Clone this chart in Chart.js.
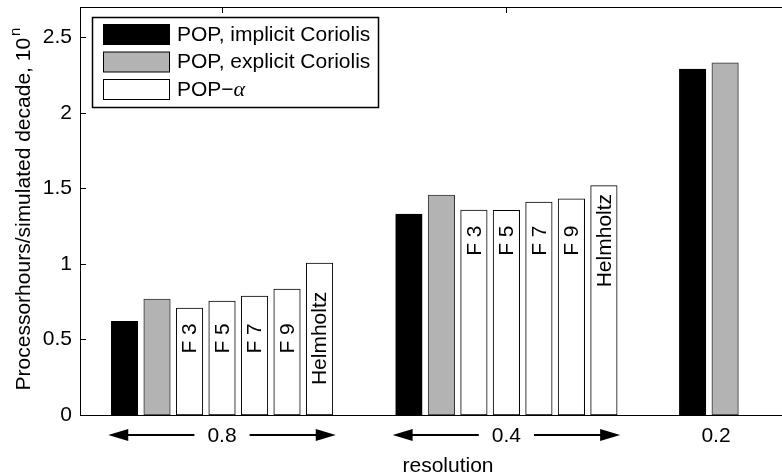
<!DOCTYPE html>
<html>
<head>
<meta charset="utf-8">
<script src="https://cdn.jsdelivr.net/npm/chart.js@4.4.1/dist/chart.umd.min.js"></script>
<style>
    html, body { margin: 0; padding: 0; background: #fff; overflow: hidden; }
    #wrap { width: 782px; height: 475px; }
</style>
</head>
<body>
<div id="wrap"><canvas id="chart"></canvas></div>
<script>
// Values: processor hours per simulated decade (10^n)
const resolutions = ['0.8', '0.4', '0.2'];
const implicitCoriolis = [0.62, 1.33, 2.29];
const explicitCoriolis = [0.767, 1.455, 2.33];
const popAlphaLabels = ['F 3', 'F 5', 'F 7', 'F 9', 'Helmholtz'];
const popAlpha08 = [0.707, 0.754, 0.787, 0.833, 1.005];
const popAlpha04 = [1.356, 1.354, 1.409, 1.43, 1.518];
const yTicks = [0, 0.5, 1, 1.5, 2, 2.5];
const seriesNames = ['POP, implicit Coriolis', 'POP, explicit Coriolis', 'POP\u2212'];

// layout: one slot = one bar plus its gap
const groupStart = [0, 8.75, 17.48];
const groupLabelAt = [3, 3, 0.72];
const BAR = 26.5;
const FONT = '"Liberation Sans", Arial, Helvetica, sans-serif';
const colors = ['#000000', '#b3b3b3', '#ffffff'];

const implicitPts = implicitCoriolis.map((v, g) => ({ x: groupStart[g], y: v }));
const explicitPts = explicitCoriolis.map((v, g) => ({ x: groupStart[g] + 1, y: v }));
const alphaPts = [];
[popAlpha08, popAlpha04].forEach((vals, g) => {
    vals.forEach((v, i) => alphaPts.push({ x: groupStart[g] + 2 + i, y: v }));
});
const alphaTextY = [Math.min(...popAlpha08) - 0.2, Math.min(...popAlpha04) - 0.2];

function arrow(ctx, tip, tail, y) {
    const dir = tail > tip ? 1 : -1;
    ctx.beginPath();
    ctx.moveTo(tip + dir * 18, y);
    ctx.lineTo(tail, y);
    ctx.stroke();
    ctx.beginPath();
    ctx.moveTo(tip, y);
    ctx.lineTo(tip + dir * 20, y - 6);
    ctx.lineTo(tip + dir * 20, y + 6);
    ctx.closePath();
    ctx.fill();
}

const decorations = {
    id: 'decorations',
    afterDatasetsDraw(chart) {
        const ctx = chart.ctx;
        const { left, top, bottom } = chart.chartArea;
        const xs = chart.scales.x, ys = chart.scales.y;
        const W = chart.width;
        ctx.save();
        ctx.strokeStyle = '#000';
        ctx.fillStyle = '#000';
        ctx.lineWidth = 1;

        // axes box: left, top and bottom; the right side runs off the picture
        ctx.beginPath();
        ctx.moveTo(left + 0.5, top);
        ctx.lineTo(left + 0.5, bottom + 1);
        ctx.moveTo(left, top + 0.5);
        ctx.lineTo(W, top + 0.5);
        ctx.moveTo(left, bottom + 0.5);
        ctx.lineTo(W, bottom + 0.5);
        ctx.stroke();

        // inward tick marks
        ctx.beginPath();
        yTicks.forEach(v => {
            const py = Math.round(ys.getPixelForValue(v)) + 0.5;
            ctx.moveTo(left, py);
            ctx.lineTo(left + 6, py);
        });
        [0, 1].forEach(g => {
            const px = Math.round(xs.getPixelForValue(groupStart[g] + groupLabelAt[g])) + 0.5;
            ctx.moveTo(px, top);
            ctx.lineTo(px, top + 6);
        });
        ctx.stroke();

        // labels inside the POP-alpha bars
        const meta = chart.getDatasetMeta(2);
        ctx.font = '21px ' + FONT;
        ctx.textAlign = 'center';
        ctx.textBaseline = 'middle';
        meta.data.forEach((bar, k) => {
            const g = Math.floor(k / popAlphaLabels.length);
            const py = ys.getPixelForValue(alphaTextY[g]);
            ctx.save();
            ctx.translate(bar.x + 1, py);
            ctx.rotate(-Math.PI / 2);
            ctx.fillText(popAlphaLabels[k % popAlphaLabels.length], 0, 0);
            ctx.restore();
        });

        // resolution labels with arrows
        ctx.textBaseline = 'alphabetic';
        ctx.lineWidth = 2;
        resolutions.forEach((lab, g) => {
            const cx = xs.getPixelForValue(groupStart[g] + groupLabelAt[g]);
            ctx.fillText(lab, cx, 442);
            if (g < 2) {
                const half = ctx.measureText(lab).width / 2 + 13;
                const x0 = xs.getPixelForValue(groupStart[g]) - BAR / 2 - 3;
                const x1 = xs.getPixelForValue(groupStart[g] + 6) + BAR / 2 + 3;
                arrow(ctx, x0, cx - half, 435);
                arrow(ctx, x1, cx + half, 435);
            }
        });

        // axis titles
        ctx.fillText('resolution', left + 368, 472);
        ctx.save();
        ctx.translate(30, 209);
        ctx.rotate(-Math.PI / 2);
        const main = 'Processorhours/simulated decade, 10';
        const w1 = ctx.measureText(main).width;
        ctx.font = '15px ' + FONT;
        const w2 = ctx.measureText('n').width;
        const x0 = -(w1 + w2 + 2) / 2;
        ctx.textAlign = 'left';
        ctx.fillText('n', x0 + w1 + 2, -10);
        ctx.font = '21px ' + FONT;
        ctx.fillText(main, x0, 0);
        ctx.restore();

        // legend
        ctx.lineWidth = 1.5;
        ctx.fillStyle = '#fff';
        ctx.fillRect(92, 17, 286, 90);
        ctx.strokeRect(92.5, 17.5, 286, 90);
        ctx.lineWidth = 1;
        ctx.textAlign = 'left';
        ctx.textBaseline = 'middle';
        seriesNames.forEach((name, i) => {
            const ry = 24 + i * 27.5;
            ctx.fillStyle = colors[i];
            ctx.fillRect(103.5, ry + 0.5, 66, 20);
            ctx.strokeRect(103.5, ry + 0.5, 66, 20);
            ctx.fillStyle = '#000';
            ctx.font = '21px ' + FONT;
            ctx.fillText(name, 177, ry + 11);
            if (i === 2) {
                const w = ctx.measureText(name).width;
                ctx.font = 'italic 22px "Liberation Serif", "DejaVu Serif", serif';
                ctx.fillText('\u03b1', 177 + w, ry + 11);
            }
        });
        ctx.restore();
    }
};

const barStyle = {
    borderColor: '#000',
    borderWidth: 1,
    borderSkipped: false,
    barThickness: BAR,
    grouped: false
};

new Chart(document.getElementById('chart'), {
    type: 'bar',
    data: {
        datasets: [
            Object.assign({ label: seriesNames[0], data: implicitPts, backgroundColor: colors[0] }, barStyle),
            Object.assign({ label: seriesNames[1], data: explicitPts, backgroundColor: colors[1] }, barStyle, { borderColor: '#333' }),
            Object.assign({ label: seriesNames[2], data: alphaPts, backgroundColor: colors[2] }, barStyle)
        ]
    },
    options: {
        responsive: true,
        maintainAspectRatio: false,
        animation: false,
        events: [],
        layout: { padding: { left: 36, top: 7, right: 0, bottom: 60 } },
        plugins: { legend: { display: false }, tooltip: { enabled: false } },
        scales: {
            x: { type: 'linear', display: false, offset: false, min: -1.37, max: 20.23 },
            y: {
                min: 0,
                max: 2.7,
                afterBuildTicks: s => { s.ticks = yTicks.map(v => ({ value: v })); },
                afterFit: s => { s.width = 44; s.paddingTop = 0; s.paddingBottom = 0; },
                grid: { display: false, drawTicks: false },
                border: { display: false },
                ticks: {
                    color: '#000',
                    padding: 8,
                    font: { family: FONT, size: 21 },
                    callback: v => String(v)
                }
            }
        }
    },
    plugins: [decorations]
});
</script>
</body>
</html>
